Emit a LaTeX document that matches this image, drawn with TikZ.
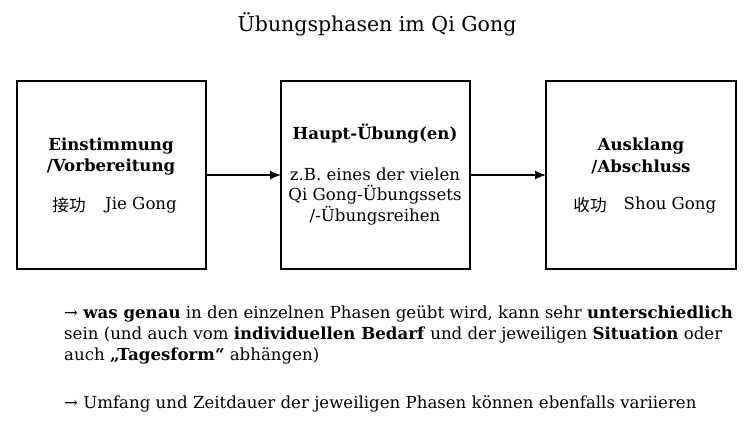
\documentclass[tikz,border=0pt]{standalone}
\usepackage{fontspec}
\usetikzlibrary{arrows.meta}
\setmainfont{DejaVu Serif}
\newfontfamily\cjk{Noto Sans CJK SC}
\begin{document}
\begin{tikzpicture}[x=1pt,y=-1pt,
  box/.style={draw,line width=1.2pt},
  txt/.style={font=\fontsize{16.6}{20}\selectfont,inner sep=0pt,anchor=center},
  arr/.style={-{Latex[length=11pt,width=9pt]},line width=1.2pt}]
\useasboundingbox (0,0) rectangle (754,444);
\node[txt,font=\fontsize{20.5}{24}\selectfont] (title) at (377,24) {Übungsphasen im Qi Gong};
\draw[box] (17,81) rectangle (206,269);
\draw[box] (281,81) rectangle (470,269);
\draw[box] (546,81) rectangle (736,269);
\coordinate (a1) at (206,175); \coordinate (b1) at (281,175);
\coordinate (a2) at (470,175); \coordinate (b2) at (546,175);
\draw[arr] (a1) -- (b1);
\draw[arr] (a2) -- (b2);
\node[txt] (e1) at (111,146) {\textbf{Einstimmung}};
\node[txt] (e2) at (111,167) {\textbf{/Vorbereitung}};
\node[txt] (e3) at (69,205) {\cjk 接功};
\node[txt] (e4) at (141,205) {Jie Gong};
\node[txt] (h1) at (375,134) {\textbf{Haupt-Übung(en)}};
\node[txt] (h2) at (375,174) {z.B. eines der vielen};
\node[txt] (h3) at (375,195) {Qi Gong-Übungssets};
\node[txt] (h4) at (375,216) {/-Übungsreihen};
\node[txt] (s1) at (641,146) {\textbf{Ausklang}};
\node[txt] (s2) at (641,167) {\textbf{/Abschluss}};
\node[txt] (s3) at (590,205) {\cjk 收功};
\node[txt] (s4) at (670,205) {Shou Gong};
\node[txt,anchor=west] (n1) at (64,314) {→ \textbf{was genau} in den einzelnen Phasen geübt wird, kann sehr \textbf{unterschiedlich}};
\node[txt,anchor=west] (n2) at (64,335) {sein (und auch vom \textbf{individuellen Bedarf} und der jeweiligen \textbf{Situation} oder};
\node[txt,anchor=west] (n3) at (64,356) {auch \textbf{„Tagesform“} abhängen)};
\node[txt,anchor=west] (n4) at (64,404) {→ Umfang und Zeitdauer der jeweiligen Phasen können ebenfalls variieren};
\end{tikzpicture}
\end{document}
